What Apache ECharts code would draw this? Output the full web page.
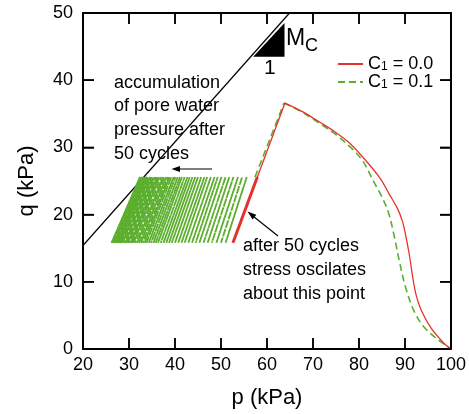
<!DOCTYPE html>
<html>
<head>
<meta charset="utf-8">
<script src="https://cdn.jsdelivr.net/npm/echarts@6/dist/echarts.min.js"></script>
<style>
html,body{margin:0;padding:0;background:#fff;}
#chart{width:469px;height:414px;}
</style>
</head>
<body>
<div id="chart"></div>
<script>
// ---- data ----
var xTicks = [20, 30, 40, 50, 60, 70, 80, 90, 100];
var yTicks = [0, 10, 20, 30, 40, 50];

// critical state line q = Mc * p
var mcP = [20, 64.9];
var mcQ = [15.4, 50];

// slope triangle
var triP = [57.0, 63.8, 63.8];
var triQ = [43.5, 43.5, 48.5];

// C1 = 0.0 (red): loading line up to peak
var redUpP = [52.6, 63.9];
var redUpQ = [15.8, 36.6];
// C1 = 0.0 (red): softening branch from peak
var redP = [63.9, 67.5, 71.6, 74.8, 77.7, 80.9, 84.6, 86.7, 88.3, 89.4, 90.1, 91.0, 91.7, 92.4, 93.4, 95.5, 98.4, 100];
var redQ = [36.6, 35.4, 33.7, 32.3, 30.8, 28.5, 25.4, 22.9, 21.0, 19.1, 17.1, 13.8, 10.6, 8.1, 6.0, 3.3, 0.9, 0];
// C1 = 0.0 final oscillation
var redCycP = [52.6, 57.9];
var redCycQ = [15.8, 25.6];

// C1 = 0.1 (green): loading line up to peak
var greenUpP = [57.4, 63.7];
var greenUpQ = [25.6, 36.6];
// C1 = 0.1 (green): softening branch
var greenP = [63.7, 67.5, 71.6, 74.8, 77.4, 80.6, 83.2, 85.0, 86.4, 87.6, 88.8, 90.2, 92.0, 94.0, 96.6, 100];
var greenQ = [36.6, 35.3, 33.5, 32.0, 30.5, 28.2, 24.9, 22.6, 20.3, 17.0, 13.0, 9.0, 5.6, 3.4, 1.7, 0];

// C1 = 0.1 cyclic loading (50 cycles)
var cycleQLow = 15.8;
var cycleQHigh = 25.6;
var cycleBottomP = [51.0, 50.0, 49.0, 48.0, 47.1, 46.2, 45.3, 44.5, 43.7, 42.9,
                    42.1, 41.4, 40.7, 40.0, 39.3, 38.7, 38.1, 37.5, 36.9, 36.3,
                    35.8, 35.3, 34.8, 34.3, 33.8, 33.4, 33.0, 32.6, 32.2, 31.8,
                    31.4, 31.0, 30.7, 30.4, 30.1, 29.8, 29.5, 29.2, 28.9, 28.6,
                    28.3, 28.1, 27.9, 27.7, 27.5, 27.3, 27.1, 26.8, 26.5, 26.2];
var cycleTopP = [55.6, 54.6, 53.7, 52.7, 51.8, 51.0, 50.1, 49.3, 48.6, 47.8,
                 47.0, 46.4, 45.7, 45.0, 44.4, 43.8, 43.2, 42.7, 42.1, 41.5,
                 41.1, 40.6, 40.1, 39.7, 39.2, 38.8, 38.5, 38.1, 37.7, 37.4,
                 37.0, 36.6, 36.3, 36.1, 35.8, 35.5, 35.3, 35.0, 34.7, 34.5,
                 34.2, 34.0, 33.9, 33.7, 33.5, 33.4, 33.2, 32.9, 32.7, 32.4];

// ---- build ----
function zip(a, b) { return a.map(function (v, i) { return [v, b[i]]; }); }

var FONT = '"Liberation Sans", Arial, Helvetica, sans-serif';
var RED = '#e3342c';
var GREEN = '#5cae2e';

var xMin = xTicks[0], xMax = xTicks[xTicks.length - 1];
var yMin = yTicks[0], yMax = yTicks[yTicks.length - 1];

// cycle groups (different dash phases so gaps do not line up)
var GROUPS = 4;
var cycleSeries = [];
for (var g = 0; g < GROUPS; g++) {
  var d = [];
  for (var i = g; i < cycleBottomP.length; i += GROUPS) {
    d.push([cycleBottomP[i], cycleQLow]);
    d.push([cycleTopP[i], cycleQHigh]);
    d.push([cycleBottomP[i], cycleQLow]);
    d.push('-');
  }
  cycleSeries.push({
    name: 'cycles' + g, type: 'line', data: d, symbol: 'none', silent: true, connectNulls: false,
    lineStyle: { color: GREEN, width: 1.8, type: [7, 2], dashOffset: g * 2.3 }, z: 3
  });
}

// tick list: [value, side] ; side 0 bottom, 1 top, 2 left, 3 right
var tickList = [];
xTicks.forEach(function (x) { tickList.push([x, 0]); tickList.push([x, 1]); });
yTicks.forEach(function (y) { tickList.push([y, 2]); tickList.push([y, 3]); });

var TICK_LEN = 11, TICK_W = 1.5;

var chart = echarts.init(document.getElementById('chart'), null, { renderer: 'canvas' });

function axLine() { return { show: true, onZero: false, lineStyle: { color: '#000', width: 2 } }; }
function axTick() { return { show: true, inside: true, length: 11, lineStyle: { color: '#000', width: 1.5 } }; }

var series = [
  {
    name: 'mc', type: 'line', data: zip(mcP, mcQ), symbol: 'none', silent: true,
    lineStyle: { color: '#000', width: 1.2 }, z: 2
  },
  {
    name: 'tri', type: 'custom', silent: true, z: 3,
    data: [0],
    renderItem: function (params, api) {
      var pts = triP.map(function (p, i) { return api.coord([p, triQ[i]]); });
      return { type: 'polygon', shape: { points: pts }, style: { fill: '#000' } };
    }
  }
].concat(cycleSeries).concat([
  {
    name: 'greenUp', type: 'line', data: zip(greenUpP, greenUpQ), symbol: 'none', silent: true,
    lineStyle: { color: GREEN, width: 1.6, type: [7, 4] }, z: 4
  },
  {
    name: 'c1', type: 'line', data: zip(greenP, greenQ), symbol: 'none', silent: true, smooth: 0.35,
    itemStyle: { color: GREEN },
    lineStyle: { color: GREEN, width: 1.6, type: [7, 4] }, z: 4
  },
  {
    name: 'redcyc', type: 'line', data: zip(redCycP, redCycQ), symbol: 'none', silent: true,
    lineStyle: { color: RED, width: 3 }, z: 5
  },
  {
    name: 'redUp', type: 'line', data: zip(redUpP, redUpQ), symbol: 'none', silent: true,
    lineStyle: { color: RED, width: 1.3 }, z: 5
  },
  {
    name: 'c0', type: 'line', data: zip(redP, redQ), symbol: 'none', silent: true, smooth: 0.35,
    itemStyle: { color: RED },
    lineStyle: { color: RED, width: 1.3 }, z: 5
  },
  {
    // inward tick marks drawn as thin filled rectangles through the axes' scales
    name: 'ticks', type: 'custom', silent: true, z: 6, clip: false,
    data: tickList.map(function (t, i) { return [i]; }),
    renderItem: function (params, api) {
      var t = tickList[params.dataIndex];
      var v = t[0], side = t[1], h = TICK_W / 2, pts;
      if (side === 0 || side === 1) {
        var c = api.coord([v, side === 0 ? yMin : yMax]);
        var dir = side === 0 ? -1 : 1;
        pts = [[c[0] - h, c[1]], [c[0] + h, c[1]], [c[0] + h, c[1] + dir * TICK_LEN], [c[0] - h, c[1] + dir * TICK_LEN]];
      } else {
        var c2 = api.coord([side === 2 ? xMin : xMax, v]);
        var dir2 = side === 2 ? 1 : -1;
        pts = [[c2[0], c2[1] - h], [c2[0], c2[1] + h], [c2[0] + dir2 * TICK_LEN, c2[1] + h], [c2[0] + dir2 * TICK_LEN, c2[1] - h]];
      }
      return { type: 'polygon', shape: { points: pts }, style: { fill: '#000' } };
    }
  }
]);

var annotations = [
  { type: 'text', left: 286, top: 27, style: { text: 'M', font: '23px ' + FONT, fill: '#000' } },
  { type: 'text', left: 305, top: 37, style: { text: 'C', font: '18px ' + FONT, fill: '#000' } },
  { type: 'text', left: 264, top: 58, style: { text: '1', font: '21px ' + FONT, fill: '#000' } },
  { type: 'text', left: 114, top: 71,
    style: { text: 'accumulation\nof pore water\npressure after\n50 cycles', font: '18px ' + FONT, fill: '#000', lineHeight: 23.6 } },
  { type: 'text', left: 243, top: 234,
    style: { text: 'after 50 cycles\nstress oscilates\nabout this point', font: '18px ' + FONT, fill: '#000', lineHeight: 24.2 } },
  // arrow 1 (pointing left)
  { type: 'line', shape: { x1: 212, y1: 169, x2: 176, y2: 169 }, style: { stroke: '#000', lineWidth: 1.2 } },
  { type: 'polygon', shape: { points: [[171.5, 169], [180, 166], [180, 172]] }, style: { fill: '#000' } },
  // arrow 2 (pointing up-left)
  { type: 'line', shape: { x1: 278, y1: 236, x2: 251, y2: 214.5 }, style: { stroke: '#000', lineWidth: 1.2 } },
  { type: 'polygon', shape: { points: [[247.5, 211.5], [256.3, 214.8], [252.6, 219.5]] }, style: { fill: '#000' } }
];

var option = {
  animation: false,
  backgroundColor: '#fff',
  grid: { left: 83, right: 18, top: 13, bottom: 61 },
  xAxis: [
    {
      type: 'value', min: xMin, max: xMax, interval: 10, position: 'bottom',
      axisLine: axLine(), axisTick: axTick(), splitLine: { show: false },
      axisLabel: { fontSize: 18, color: '#000', margin: 7, fontFamily: FONT },
      name: 'p (kPa)', nameLocation: 'middle', nameGap: 38,
      nameTextStyle: { fontSize: 22, color: '#000', fontFamily: FONT }
    },
    {
      type: 'value', min: xMin, max: xMax, interval: 10, position: 'top',
      axisLine: axLine(), axisTick: axTick(), splitLine: { show: false },
      axisLabel: { show: false }
    }
  ],
  yAxis: [
    {
      type: 'value', min: yMin, max: yMax, interval: 10, position: 'left',
      axisLine: axLine(), axisTick: axTick(), splitLine: { show: false },
      axisLabel: { fontSize: 18, color: '#000', margin: 10, fontFamily: FONT },
      name: 'q (kPa)', nameLocation: 'middle', nameGap: 45,
      nameTextStyle: { fontSize: 22, color: '#000', fontFamily: FONT }
    },
    {
      type: 'value', min: yMin, max: yMax, interval: 10, position: 'right',
      axisLine: axLine(), axisTick: axTick(), splitLine: { show: false },
      axisLabel: { show: false }
    }
  ],
  legend: {
    data: ['c0', 'c1'],
    orient: 'vertical',
    left: 332, top: 50,
    itemWidth: 25, itemHeight: 12, itemGap: 0,
    selectedMode: false,
    itemStyle: { opacity: 0 },
    formatter: function (name) {
      return name === 'c0' ? '{c|C}{s|1}{c| = 0.0}' : '{c|C}{s|1}{c| = 0.1}';
    },
    textStyle: {
      color: '#000', fontFamily: FONT,
      rich: {
        c: { fontSize: 18, lineHeight: 17, fontFamily: FONT, color: '#000' },
        s: { fontSize: 12, lineHeight: 12, fontFamily: FONT, color: '#000', verticalAlign: 'bottom', padding: [4, 0, 0, 0] }
      }
    }
  },
  series: series,
  graphic: annotations
};
chart.setOption(option);
</script>
</body>
</html>
